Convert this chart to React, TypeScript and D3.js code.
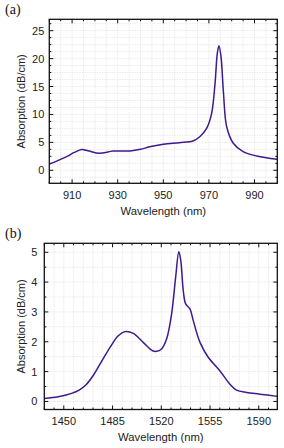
import React from "react";
import * as d3 from "d3";

// Panel (a): ~900-1000 nm
const waveA = [900, 903, 907.6, 911, 914.2, 917, 922, 928, 935.4, 940, 944, 950, 957, 963, 966, 969, 971.2, 972.7, 973.7, 974.4, 975.3, 976.4, 977.8, 980.7, 985, 991, 1000];
const absA = [1.1, 1.6, 2.45, 3.2, 3.72, 3.5, 3.05, 3.45, 3.45, 3.75, 4.2, 4.65, 4.95, 5.25, 6.0, 7.5, 10.2, 15.6, 21.0, 22.3, 20.4, 13.8, 7.8, 4.84, 3.34, 2.56, 1.97];
const xTicksA = [910, 930, 950, 970, 990];
const yTicksA = [0, 5, 10, 15, 20, 25];

// Panel (b): ~1436-1603 nm
const waveB = [1436, 1446, 1455.6, 1461, 1466, 1471, 1476, 1483.2, 1489.1, 1494, 1499.9, 1507, 1513.8, 1516.6, 1520.2, 1523.8, 1527.4, 1530.3, 1532.6, 1534, 1535.8, 1537.5, 1540.6, 1543, 1547.8, 1553.7, 1562, 1569.3, 1574, 1581.3, 1590.8, 1603.3];
const absB = [0.1, 0.155, 0.27, 0.38, 0.56, 0.86, 1.25, 1.81, 2.2, 2.34, 2.28, 1.98, 1.7, 1.68, 1.76, 2.09, 2.93, 4.16, 5.02, 4.72, 3.71, 3.27, 3.1, 2.7, 1.98, 1.48, 1.03, 0.58, 0.38, 0.3, 0.245, 0.17];
const xTicksB = [1450, 1485, 1520, 1555, 1590];
const yTicksB = [0, 1, 2, 3, 4, 5];

const FONT = "Liberation Sans, Arial, sans-serif";
const LINE = "#3d1a8e";

type PanelProps = {
  label: string;
  box: { l: number; r: number; t: number; b: number };
  xDomain: [number, number];
  yDomain: [number, number];
  xs: number[];
  ys: number[];
  xTicks: number[];
  yTicks: number[];
  xMinorStep: number;
  yMinorStep: number;
  yLabelGap: number;
};

function minorRange(base: number, step: number, lo: number, hi: number) {
  const start = base - Math.floor((base - lo) / step) * step;
  const out: number[] = [];
  for (let v = start; v <= hi + 1e-9; v += step) out.push(+v.toFixed(6));
  return out;
}

function Panel(p: PanelProps) {
  const { box } = p;
  const x = d3.scaleLinear().domain(p.xDomain).range([box.l, box.r]);
  const y = d3.scaleLinear().domain(p.yDomain).range([box.b, box.t]);
  const xMinor = minorRange(p.xTicks[0], p.xMinorStep, p.xDomain[0], p.xDomain[1]);
  const yMinor = minorRange(p.yTicks[0], p.yMinorStep, p.yDomain[0], p.yDomain[1]);
  const pts = p.xs.map((v, i) => [v, p.ys[i]] as [number, number]);
  const line = d3.line<[number, number]>().x((d) => x(d[0])).y((d) => y(d[1])).curve(d3.curveCatmullRom.alpha(0.5));
  const isMajorX = (v: number) => p.xTicks.some((t) => Math.abs(t - v) < 1e-6);
  const isMajorY = (v: number) => p.yTicks.some((t) => Math.abs(t - v) < 1e-6);
  const cx = (box.l + box.r) / 2;
  const cy = (box.t + box.b) / 2;
  return (
    <g>
      <text x={5} y={box.t - 5} fontFamily="Liberation Serif, Times New Roman, serif" fontSize={14} fill="#111">{p.label}</text>
      {xMinor.map((v) => (
        <line key={"gx" + v} x1={x(v)} x2={x(v)} y1={box.t} y2={box.b} stroke="#e4e4e4" strokeWidth={0.8} strokeDasharray="1.5,1" />
      ))}
      {yMinor.map((v) => (
        <line key={"gy" + v} x1={box.l} x2={box.r} y1={y(v)} y2={y(v)} stroke="#e4e4e4" strokeWidth={0.8} strokeDasharray="1.5,1" />
      ))}
      {xMinor.map((v) => {
        const len = isMajorX(v) ? 4 : 2;
        return (
          <g key={"tx" + v}>
            <line x1={x(v)} x2={x(v)} y1={box.b} y2={box.b - len} stroke="#111" strokeWidth={1} />
            <line x1={x(v)} x2={x(v)} y1={box.t} y2={box.t + len} stroke="#111" strokeWidth={1} />
          </g>
        );
      })}
      {yMinor.map((v) => {
        const len = isMajorY(v) ? 4 : 2;
        return (
          <g key={"ty" + v}>
            <line x1={box.l} x2={box.l + len} y1={y(v)} y2={y(v)} stroke="#111" strokeWidth={1} />
            <line x1={box.r} x2={box.r - len} y1={y(v)} y2={y(v)} stroke="#111" strokeWidth={1} />
          </g>
        );
      })}
      <path d={line(pts) || ""} fill="none" stroke={LINE} strokeWidth={1.5} />
      <rect x={box.l} y={box.t} width={box.r - box.l} height={box.b - box.t} fill="none" stroke="#111" strokeWidth={1.3} />
      {p.xTicks.map((v) => (
        <text key={"lx" + v} x={x(v)} y={box.b + 15.5} textAnchor="middle" fontFamily={FONT} fontSize={11} fill="#222">{v}</text>
      ))}
      {p.yTicks.map((v) => (
        <text key={"ly" + v} x={box.l - p.yLabelGap} y={y(v) + 4} textAnchor="end" fontFamily={FONT} fontSize={11} fill="#222">{v}</text>
      ))}
      <text x={cx} y={box.b + 31.5} textAnchor="middle" fontFamily={FONT} fontSize={11.3} fill="#222">Wavelength (nm)</text>
      <text transform={`translate(25,${cy}) rotate(-90)`} textAnchor="middle" fontFamily={FONT} fontSize={11} fill="#222">Absorption (dB/cm)</text>
    </g>
  );
}

export default function App() {
  return (
    <svg width={284} height={448} style={{ position: "absolute", left: 0, top: 0, background: "#fff" }}>
      <rect width={284} height={448} fill="#fff" />
      <Panel
        label="(a)"
        box={{ l: 49.3, r: 277.3, t: 19.3, b: 183.3 }}
        xDomain={[900, 1000]}
        yDomain={[-2.33, 27.04]}
        xs={waveA}
        ys={absA}
        xTicks={xTicksA}
        yTicks={yTicksA}
        xMinorStep={5}
        yMinorStep={1.25}
        yLabelGap={5}
      />
      <Panel
        label="(b)"
        box={{ l: 44.3, r: 277.3, t: 243.3, b: 409.5 }}
        xDomain={[1436, 1603.3]}
        yDomain={[-0.27, 5.3]}
        xs={waveB}
        ys={absB}
        xTicks={xTicksB}
        yTicks={yTicksB}
        xMinorStep={7}
        yMinorStep={0.5}
        yLabelGap={7}
      />
    </svg>
  );
}
